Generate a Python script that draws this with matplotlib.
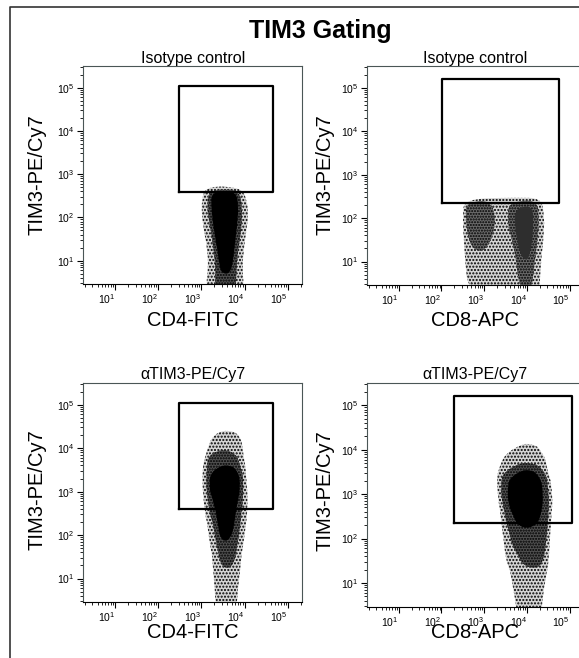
import numpy as np
import matplotlib
matplotlib.use("Agg")
import matplotlib.pyplot as plt
from matplotlib.lines import Line2D
from matplotlib.path import Path
from matplotlib.patches import PathPatch

plt.rcParams['font.family'] = ['Liberation Sans', 'DejaVu Sans']
plt.rcParams['hatch.linewidth'] = 1.0

# gates (fluorescence units), [low, high]
gate_cd4_iso_x = [300, 45000]
gate_cd4_iso_y = [390, 110000]
gate_cd8_iso_x = [105, 55000]
gate_cd8_iso_y = [220, 160000]
gate_cd4_tim_x = [300, 45000]
gate_cd4_tim_y = [400, 110000]
gate_cd8_tim_x = [200, 110000]
gate_cd8_tim_y = [220, 160000]

# cell cloud outlines as (log10 x, log10 y)
# outer = sparse dots, mid = dense dots, core = solid
cd4_iso_outer = [(3.09, 2.66), (3.36, 2.72), (3.66, 2.70), (3.93, 2.64), (4.05, 2.40),
                 (4.09, 2.00), (4.03, 1.60), (3.98, 1.20), (3.95, 0.80), (3.99, 0.00),
                 (3.09, 0.00), (3.16, 0.80), (3.14, 1.20), (3.07, 1.60), (3.01, 2.00),
                 (3.01, 2.40)]
cd4_iso_mid = [(3.17, 2.60), (3.51, 2.66), (3.87, 2.60), (3.95, 2.20), (3.93, 1.70),
               (3.85, 1.20), (3.81, 0.70), (3.79, 0.00), (3.31, 0.00), (3.33, 0.80),
               (3.27, 1.30), (3.19, 1.80), (3.13, 2.20)]
cd4_iso_core = [(3.23, 2.56), (3.51, 2.62), (3.81, 2.56), (3.86, 2.20), (3.83, 1.80),
                (3.78, 1.40), (3.74, 1.00), (3.67, 0.70), (3.45, 0.70), (3.40, 1.00),
                (3.34, 1.40), (3.27, 1.80), (3.23, 2.20)]

cd8_iso_outer = [(2.53, 2.44), (3.31, 2.47), (4.31, 2.46), (4.41, 2.00), (4.38, 1.40),
                 (4.31, 0.80), (4.29, 0.00), (2.61, 0.00), (2.55, 1.00), (2.49, 1.80)]
cd8_iso_mid = [(2.57, 2.38), (3.11, 2.40), (3.27, 2.00), (3.21, 1.60), (3.03, 1.25),
               (2.71, 1.25), (2.57, 1.70)]
cd8_iso_mid2 = [(3.59, 2.40), (4.23, 2.40), (4.29, 1.80), (4.21, 1.20), (4.13, 0.30),
                (3.79, 0.30), (3.69, 1.30), (3.53, 1.80)]
cd8_iso_core = [(3.73, 2.25), (4.13, 2.28), (4.15, 1.60), (4.05, 1.00), (3.83, 1.10),
                (3.71, 1.70)]

cd4_tim_outer = [(3.31, 4.35), (3.61, 4.42), (3.89, 4.30), (3.98, 3.80), (4.05, 3.20),
                 (4.08, 2.50), (3.98, 1.80), (3.88, 1.00), (3.81, 0.00), (3.33, 0.00),
                 (3.29, 1.00), (3.19, 1.80), (3.07, 2.50), (3.01, 3.20), (3.07, 3.80)]
cd4_tim_mid = [(3.19, 3.92), (3.66, 3.98), (3.95, 3.50), (3.98, 2.80), (3.88, 2.00),
               (3.78, 1.30), (3.44, 1.20), (3.34, 1.80), (3.17, 2.50), (3.09, 3.20)]
cd4_tim_core = [(3.23, 3.48), (3.56, 3.64), (3.85, 3.48), (3.91, 3.05), (3.81, 2.60),
                (3.75, 2.10), (3.62, 1.85), (3.43, 1.90), (3.37, 2.30), (3.29, 2.70),
                (3.17, 3.05)]

cd8_tim_outer = [(3.56, 3.98), (4.01, 4.18), (4.38, 3.92), (4.48, 3.50), (4.61, 2.90),
                 (4.55, 2.20), (4.51, 1.40), (4.38, 0.80), (4.33, 0.00), (3.77, 0.00),
                 (3.69, 0.80), (3.49, 1.50), (3.41, 2.20), (3.31, 2.90), (3.29, 3.50)]
cd8_tim_mid = [(3.44, 3.52), (3.91, 3.74), (4.38, 3.58), (4.53, 2.90), (4.48, 2.20),
               (4.41, 1.40), (3.91, 1.30), (3.64, 1.80), (3.49, 2.40), (3.37, 3.00)]
cd8_tim_core = [(3.59, 3.38), (3.96, 3.58), (4.29, 3.42), (4.39, 2.90), (4.31, 2.40),
                (4.06, 2.22), (3.75, 2.28), (3.57, 2.70), (3.54, 3.05)]

titles = ["Isotype control", "Isotype control", "\u03b1TIM3-PE/Cy7", "\u03b1TIM3-PE/Cy7"]
xlabels = ["CD4-FITC", "CD8-APC", "CD4-FITC", "CD8-APC"]
ylabel = "TIM3-PE/Cy7"
decades = [10, 100, 1000, 10000, 100000]

W, H = 579, 658
fig = plt.figure(figsize=(W / 100, H / 100), dpi=100)


def px_axes(x0, y0, x1, y1):
    # pixel box (left, top, right, bottom) -> figure axes
    return fig.add_axes([x0 / W, 1 - y1 / H, (x1 - x0) / W, (y1 - y0) / H])


def blob(ax, pts, face, hatch=None):
    # closed quadratic spline through the midpoints of the outline, so the
    # cloud edges come out round instead of angular
    p = 10 ** np.array(pts)
    n = len(p)
    mids = [(p[i] + p[(i + 1) % n]) / 2 for i in range(n)]
    verts = [mids[-1]]
    codes = [Path.MOVETO]
    for i in range(n):
        verts += [p[i], mids[i]]
        codes += [Path.CURVE3, Path.CURVE3]
    ax.add_patch(PathPatch(Path(verts, codes), facecolor=face, edgecolor='black',
                           linewidth=0, hatch=hatch, zorder=2))


panels = [
    (px_axes(83, 66, 302, 284), gate_cd4_iso_x, gate_cd4_iso_y,
     [cd4_iso_outer], [cd4_iso_mid], [cd4_iso_core]),
    (px_axes(367, 66, 584, 285), gate_cd8_iso_x, gate_cd8_iso_y,
     [cd8_iso_outer], [cd8_iso_mid, cd8_iso_mid2], [cd8_iso_core]),
    (px_axes(83, 383, 302, 602), gate_cd4_tim_x, gate_cd4_tim_y,
     [cd4_tim_outer], [cd4_tim_mid], [cd4_tim_core]),
    (px_axes(367, 383, 584, 607), gate_cd8_tim_x, gate_cd8_tim_y,
     [cd8_tim_outer], [cd8_tim_mid], [cd8_tim_core]),
]

for i, (ax, gx, gy, outer, mid, core) in enumerate(panels):
    ax.set_xscale('log')
    ax.set_yscale('log')
    ax.set_xlim(10 ** 0.26, 10 ** 5.33)
    ax.set_ylim(10 ** 0.46, 10 ** 5.5)
    for p in outer:
        blob(ax, p, '#d4d4d4', '.....')
    for p in mid:
        blob(ax, p, '#6a6a6a' if i == 1 else '#505050', '......')
    # the CD8 isotype panel is sparser, its core is dark grey not solid black
    for p in core:
        blob(ax, p, '#2e2e2e' if i == 1 else 'black')
    ax.plot([gx[0], gx[1], gx[1], gx[0], gx[0]], [gy[0], gy[0], gy[1], gy[1], gy[0]],
            color='black', lw=1.6, zorder=3)
    ax.set_xticks(decades)
    ax.set_yticks(decades)
    # FlowJo puts the x labels to the left of their tick
    plt.setp(ax.get_xticklabels(), ha='right')
    ax.tick_params(which='major', direction='out', length=4, width=0.8, labelsize=7.5, pad=2)
    ax.tick_params(which='minor', direction='out', length=2, width=0.6)
    ax.tick_params(top=False, right=False)
    for s in ax.spines.values():
        s.set_color('#4a5656')
        s.set_linewidth(0.8)
    ax.spines['bottom'].set_color('black')

# texts, placed in figure pixels
cx = [193, 475, 193, 475]
sub_y = [58, 58, 375, 375]
xl_y = [321, 321, 633, 633]
yl_x = [37, 325, 37, 325]
yl_y = [175, 175, 490, 491]
for i in range(4):
    fig.text(cx[i] / W, 1 - sub_y[i] / H, titles[i], ha='center', va='center', fontsize=11.5)
    fig.text(cx[i] / W, 1 - xl_y[i] / H, xlabels[i], ha='center', va='center', fontsize=14.5)
    fig.text(yl_x[i] / W, 1 - yl_y[i] / H, ylabel, ha='center', va='center',
             rotation=90, fontsize=14.5)

fig.text(320 / W, 1 - 31 / H, "TIM3 Gating", ha='center', va='center',
         fontsize=18, fontweight='bold')

# outer frame (only left and top edges are inside the picture)
fig.add_artist(Line2D([10 / W, 10 / W, 1.0], [0.0, 1 - 7 / H, 1 - 7 / H],
                      transform=fig.transFigure, color='#333333', lw=1.2))

fig.savefig("out.png", dpi=100)
